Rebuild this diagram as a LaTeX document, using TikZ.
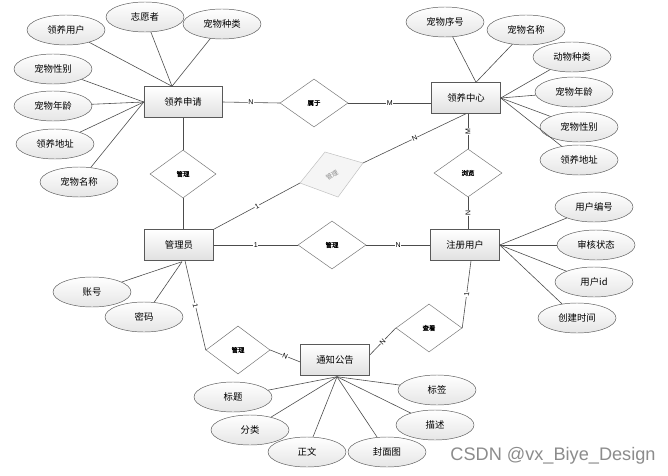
\documentclass[tikz,border=0pt]{standalone}
\usepackage{fontspec}
\newfontfamily\cjk{Noto Sans CJK SC}
\newfontfamily\cjkbold[FakeBold=1.5]{Noto Sans CJK SC}
\newfontfamily\markfont{Liberation Sans}
\usepackage{tikz}
\usetikzlibrary{shapes.geometric,calc,positioning}
\tikzset{
entity/.style={draw=black!65,rectangle,top color=white,bottom color=black!12,minimum width=2.07cm,minimum height=0.93cm,inner sep=0pt,font=\cjk\fontsize{8}{9}\selectfont},
attr/.style={draw=black!65,ellipse,top color=white,bottom color=black!10,minimum width=2.34cm,minimum height=0.9cm,inner sep=0pt,font=\cjk\fontsize{8}{9}\selectfont},
rel/.style={draw=black!55,diamond,fill=white,minimum width=2.04cm,minimum height=1.44cm,inner sep=0pt,font=\cjkbold\fontsize{5.5}{6}\selectfont},
link/.style={draw=black!70,line width=0.5pt},
card/.style={fill=white,inner sep=0.5pt,font=\markfont\fontsize{6}{7}\selectfont,sloped}
}
\begin{document}
\begin{tikzpicture}[x=0.03cm,y=-0.03cm]
\useasboundingbox[fill=white] (0,0) rectangle (668,476);
\node[entity,minimum width=2.34cm] (shenqing) at (183,102) {领养申请};
\node[entity] (zhongxin) at (466,98) {领养中心};
\node[entity] (guanliyuan) at (179,245) {管理员};
\node[entity] (yonghu) at (465,245) {注册用户};
\node[entity] (gonggao) at (335,360) {通知公告};

\node[rel,minimum width=1.98cm] (guanliA) at (183,174) {管理};
\node[rel] (shuyu) at (314,103) {属于};
\node[rel] (liulan) at (468,173) {浏览};
\node[rel] (guanliB) at (332,245) {管理};
\node[rel,minimum width=1.92cm] (guanliC) at (238,350) {管理};
\node[rel,minimum width=1.98cm] (chakan) at (429,328) {查看};
\coordinate (gl) at (300,183);
\coordinate (gt) at (325,152);
\coordinate (gr) at (363,163);
\coordinate (gb) at (338,197);
\draw[draw=black!25,fill=black!4] (gl) -- (gt) -- (gr) -- (gb) -- cycle;
\node[rotate=32,inner sep=0pt,text=black!45,font=\cjk\fontsize{5.5}{6}\selectfont] (guanliD) at (332,175) {管理};

% attributes
\node[attr] (lingyangyonghu) at (66,30) {领养用户};
\node[attr] (zhiyuanzhe) at (145,17) {志愿者};
\node[attr] (chongwuzhonglei) at (222,24) {宠物种类};
\node[attr] (xingbieA) at (53,69) {宠物性别};
\node[attr] (nianlingA) at (53,106) {宠物年龄};
\node[attr] (dizhiA) at (55,144) {领养地址};
\node[attr] (mingchengA) at (79,182) {宠物名称};

\node[attr] (xuhao) at (445,22) {宠物序号};
\node[attr] (mingchengB) at (526,30) {宠物名称};
\node[attr] (dongwuzhonglei) at (572,57) {动物种类};
\node[attr] (nianlingB) at (574,92) {宠物年龄};
\node[attr] (xingbieB) at (579,127) {宠物性别};
\node[attr] (dizhiB) at (579,160) {领养地址};

\node[attr] (zhanghao) at (92,292) {账号};
\node[attr] (mima) at (144,317) {密码};

\node[attr] (bianhao) at (594,207) {用户编号};
\node[attr] (zhuangtai) at (596,245) {审核状态};
\node[attr] (yonghuid) at (594,282) {用户id};
\node[attr] (shijian) at (577,318) {创建时间};

\node[attr] (biaoti) at (233,397) {标题};
\node[attr] (fenlei) at (250,430) {分类};
\node[attr] (zhengwen) at (307,452) {正文};
\node[attr] (fengmian) at (387,452) {封面图};
\node[attr] (miaoshu) at (435,425) {描述};
\node[attr] (biaoqian) at (437,390) {标签};

\coordinate (sqtop) at ($(shenqing.north)+(-11,0)$);
\coordinate (zxtop) at ($(zhongxin.north)+(10,0)$);
\coordinate (glybot) at ($(guanliyuan.south)+(3,1)$);
\coordinate (ggbot) at ($(gonggao.south)+(2,1)$);

\foreach \a in {lingyangyonghu,zhiyuanzhe,chongwuzhonglei}
  \draw[link] (\a) -- (sqtop);
\foreach \a in {xingbieA,nianlingA,dizhiA,mingchengA}
  \draw[link] (\a) -- (shenqing.west);
\foreach \a in {xuhao,mingchengB}
  \draw[link] (\a) -- (zxtop);
\foreach \a in {dongwuzhonglei,nianlingB,xingbieB,dizhiB}
  \draw[link] (\a) -- (zhongxin.east);
\foreach \a in {zhanghao,mima}
  \draw[link] (\a) -- (glybot);
\foreach \a in {bianhao,zhuangtai,yonghuid,shijian}
  \draw[link] (\a) -- (yonghu.east);
\foreach \a in {biaoti,fenlei,zhengwen,fengmian,miaoshu,biaoqian}
  \draw[link] (\a) -- (ggbot);

% relationships
\draw[link] (shenqing.east) -- node[card] {N} (shuyu.west);
\draw[link] (shuyu.east) -- node[card] {M} (shuyu.east -| zhongxin.west);
\draw[link] (shenqing.south) -- (guanliA.north);
\draw[link] (guanliA.south) -- (guanliA.south |- guanliyuan.north);
\draw[link] (guanliyuan.north east) -- node[card] {1} (gl);
\draw[link] (gr) -- node[card] {N} (zhongxin.south);
\draw[link] (liulan.north) -- node[card] {M} (liulan.north |- zhongxin.south);
\draw[link] (liulan.south) -- node[card] {N} (liulan.south |- yonghu.north);
\draw[link] (guanliyuan.east) -- node[card] {1} (guanliB.west);
\draw[link] (guanliB.east) -- node[card] {N} (yonghu.west);
\draw[link] ($(guanliyuan.south)+(6,0)$) -- node[card] {1} (guanliC.west);
\draw[link] (guanliC.east) -- node[card] {N} ($(gonggao.west)+(0,2)$);
\draw[link] ($(yonghu.south)+(6,0)$) -- node[card] {1} (chakan.east);
\draw[link] (chakan.west) -- node[card] {N} ($(gonggao.east)+(0,-5)$);

\node[text=black!45,font=\markfont\fontsize{15.5}{17}\selectfont] (mark) at (553,456) {CSDN @vx\_Biye\_Design};
\end{tikzpicture}
\end{document}
